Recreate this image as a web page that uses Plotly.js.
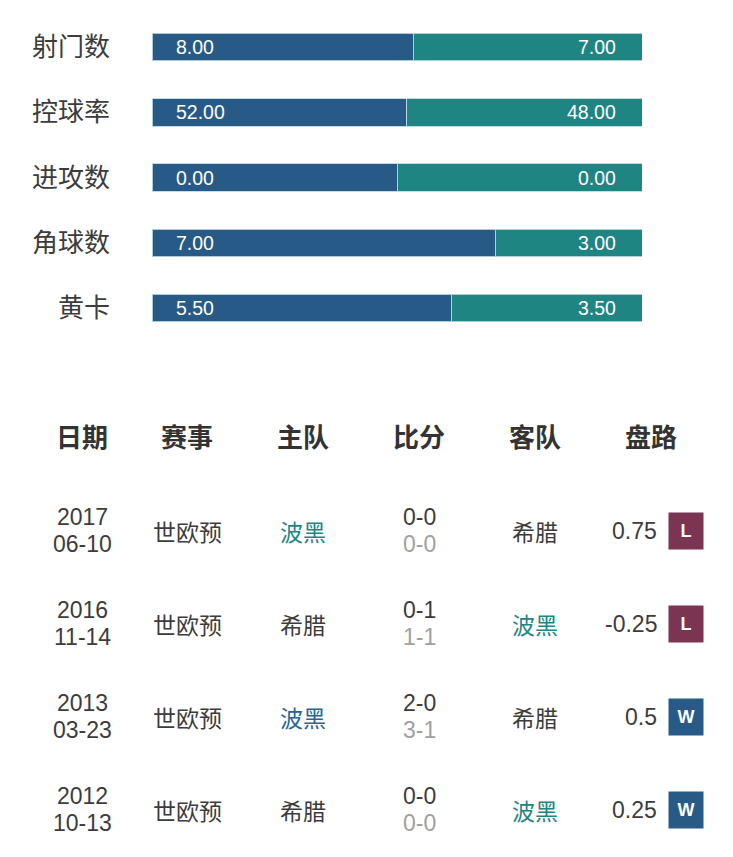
<!DOCTYPE html>
<html>
<head>
<meta charset="utf-8">
<script src="https://cdn.plot.ly/plotly-3.0.1.min.js"></script>
<style>html,body{margin:0;padding:0;background:#fff;}#chart{width:733px;height:857px;}</style>
</head>
<body>
<div id="chart"></div>
<script>
// ---------- data ----------
const categories = ['射门数', '控球率', '进攻数', '角球数', '黄卡'];
const homeValues = [8, 52, 0, 7, 5.5];
const awayValues = [7, 48, 0, 3, 3.5];

const headers = ['日期', '赛事', '主队', '比分', '客队', '盘路'];
const matchYears = ['2017', '2016', '2013', '2012'];
const matchDays = ['06-10', '11-14', '03-23', '10-13'];
const competitions = ['世欧预', '世欧预', '世欧预', '世欧预'];
const homeTeams = ['波黑', '希腊', '波黑', '希腊'];
const awayTeams = ['希腊', '波黑', '希腊', '波黑'];
const fullScores = ['0-0', '0-1', '2-0', '0-0'];
const halfScores = ['0-0', '1-1', '3-1', '0-0'];
const handicaps = ['0.75', '-0.25', '0.5', '0.25'];
const results = ['L', 'L', 'W', 'W'];
const focusTeam = '波黑';

// ---------- styles ----------
const W = 733, H = 857;
const FONT = 'Liberation Sans, Noto Sans CJK SC, sans-serif';
const BLUE = '#275a86', TEAL = '#1f8582', MAROON = '#7b3452';
const TEXT = '#3c3c3c', GREY = '#a0a0a0';
const resultColor = {L: MAROON, W: BLUE};
const focusColorByRow = [TEAL, TEAL, '#2a6496', TEAL];
const colX = [82, 187, 303, 419, 535, 651]; // column centres (px on x2)
const oddsRight = 659, badgeX = 686;

// bar geometry
const barLeft = 152, barRight = 642;
const firstCenter = 47, pitch = 65.3;
const yTop = firstCenter - pitch / 2, yBot = firstCenter + pitch * (categories.length - 0.5);

const homeShare = homeValues.map((h, i) => (h + awayValues[i]) ? h / (h + awayValues[i]) : 0.5);
const awayShare = homeShare.map(s => 1 - s);

const traces = [
  {type: 'bar', orientation: 'h', y: categories, x: homeShare, width: 0.42,
   marker: {color: BLUE, line: {color: 'rgba(190,215,225,0.9)', width: 1}}, hoverinfo: 'none'},
  {type: 'bar', orientation: 'h', y: categories, x: awayShare, width: 0.42,
   marker: {color: TEAL, line: {color: 'rgba(190,215,225,0.9)', width: 1}}, hoverinfo: 'none'},
  {type: 'scatter', mode: 'markers', x: [0], y: [0], xaxis: 'x2', yaxis: 'y2',
   marker: {opacity: 0}, hoverinfo: 'none'}
];

const ann = [];
categories.forEach((c, i) => {
  ann.push({xref: 'paper', yref: 'y', x: barLeft / W, y: c, xanchor: 'right', xshift: -40,
    text: c, showarrow: false, font: {family: FONT, size: 26, color: TEXT}});
  ann.push({xref: 'x', yref: 'y', x: 0, y: c, xanchor: 'left', xshift: 22,
    text: homeValues[i].toFixed(2), showarrow: false, font: {family: FONT, size: 19.5, color: '#fff'}});
  ann.push({xref: 'x', yref: 'y', x: 1, y: c, xanchor: 'right', xshift: -24,
    text: awayValues[i].toFixed(2), showarrow: false, font: {family: FONT, size: 19.5, color: '#fff'}});
});

// table: y2 in row units, header = 0
const headerY = 437.5, rowPitch = 93;
headers.forEach((h, j) => {
  ann.push({xref: 'x2', yref: 'y2', x: colX[j], y: 0, text: '<b>' + h + '</b>', showarrow: false,
    font: {family: FONT, size: 26, color: '#333'}});
});
const cell = (x, r, text, color, extra) => Object.assign({xref: 'x2', yref: 'y2', x: x, y: r, text: text,
  showarrow: false, font: {family: FONT, size: 23, color: color}}, extra || {});
matchYears.forEach((yr, i) => {
  const r = i + 1;
  ann.push(cell(colX[0], r, yr, TEXT, {yshift: 14}));
  ann.push(cell(colX[0], r, matchDays[i], TEXT, {yshift: -13}));
  ann.push(cell(colX[1], r, competitions[i], TEXT, {yshift: -2}));
  ann.push(cell(colX[2], r, homeTeams[i], homeTeams[i] === focusTeam ? focusColorByRow[i] : TEXT, {yshift: -2}));
  ann.push(cell(colX[3], r, fullScores[i], TEXT, {yshift: 14}));
  ann.push(cell(colX[3], r, halfScores[i], GREY, {yshift: -13}));
  ann.push(cell(colX[4], r, awayTeams[i], awayTeams[i] === focusTeam ? focusColorByRow[i] : TEXT, {yshift: -2}));
  ann.push(cell(oddsRight, r, handicaps[i], TEXT, {xanchor: 'right'}));
  ann.push(cell(badgeX, r, results[i], '#fff',
    {width: 34, height: 36, bgcolor: resultColor[results[i]], borderpad: 0,
     font: {family: FONT, size: 18, color: '#fff', weight: 600}}));
});

const layout = {
  width: W, height: H, margin: {l: 0, r: 0, t: 0, b: 0},
  paper_bgcolor: '#fff', plot_bgcolor: 'rgba(0,0,0,0)',
  barmode: 'stack', showlegend: false, bargap: 0,
  xaxis: {domain: [barLeft / W, barRight / W], range: [0, 1], visible: false, fixedrange: true},
  yaxis: {domain: [1 - yBot / H, 1 - yTop / H], autorange: false,
          range: [categories.length - 0.5, -0.5], type: 'category', visible: false, fixedrange: true},
  xaxis2: {domain: [0, 1], range: [0, W], visible: false, anchor: 'y2'},
  yaxis2: {domain: [0, 1], range: [(H - headerY) / rowPitch, -headerY / rowPitch], visible: false, anchor: 'x2'},
  annotations: ann
};

Plotly.newPlot('chart', traces, layout, {staticPlot: true});
</script>
</body>
</html>
